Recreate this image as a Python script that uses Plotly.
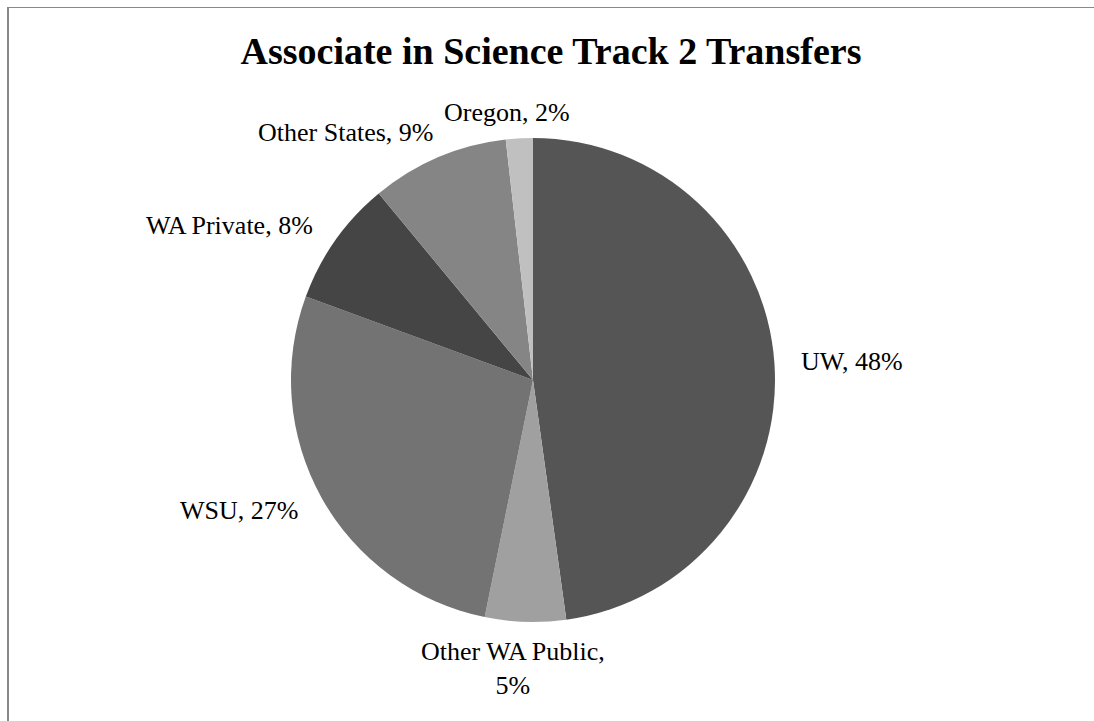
import math
import plotly.graph_objects as go

categories = ["UW", "Other WA Public", "WSU", "WA Private", "Other States", "Oregon"]
values = [47.8, 5.4, 27.4, 8.4, 9.2, 1.8]
shown_pct = [48, 5, 27, 8, 9, 2]
colors = ["#555555", "#a0a0a0", "#737373", "#454545", "#858585", "#c0c0c0"]

W, H = 1094, 721
labels_text = []
for c, p in zip(categories, shown_pct):
    if c == "Other WA Public":
        labels_text.append(f"{c},<br>{p}%")
    else:
        labels_text.append(f"{c}, {p}%")

FONT = "Liberation Serif, Times New Roman, serif"
cx, cy, R = 533, 380, 242
fig = go.Figure(go.Pie(
    labels=categories,
    values=values,
    textinfo="none",
    sort=False,
    direction="clockwise",
    rotation=0,
    marker=dict(colors=colors, line=dict(width=0)),
    showlegend=False,
    hoverinfo="label+percent",
    domain=dict(x=[(cx - R) / W, (cx + R) / W], y=[(H - cy - R) / H, (H - cy + R) / H]),
))

# label placement outside the slice ends (computed from the data angles)
annotations = []
total = sum(values)
cum = 0.0
for v, t in zip(values, labels_text):
    mid = (cum + v / 2) / total * 2 * math.pi
    cum += v
    s, c = math.sin(mid), math.cos(mid)
    xshift = 0
    if s > 0.2:
        xa = "left"
    elif s < -0.2:
        xa = "right"
    else:
        xa = "center"
        xshift = -12
    if c >= 0.85:
        ya, d = "bottom", 251
    elif c <= -0.85:
        ya, d = "top", 255
    else:
        ya, d = "middle", 267
    px = cx + d * s
    py = cy - d * c
    annotations.append(dict(
        text=t, x=px / W, y=1 - py / H, xref="paper", yref="paper",
        xanchor=xa, yanchor=ya, xshift=xshift, showarrow=False, align="center",
        font=dict(family=FONT, size=26, color="black"),
    ))

fig.update_layout(
    width=W, height=H,
    margin=dict(l=0, r=0, t=0, b=0),
    paper_bgcolor="white",
    title=dict(text="<b>Associate in Science Track 2 Transfers</b>",
               font=dict(family=FONT, size=38, color="black"),
               x=551 / W, xanchor="center", y=1 - 51 / H, yanchor="middle"),
    annotations=annotations,
    shapes=[
        dict(type="line", xref="paper", yref="paper", x0=7 / W, x1=1, y0=1 - 7.5 / H, y1=1 - 7.5 / H,
             line=dict(color="#888888", width=1)),
        dict(type="line", xref="paper", yref="paper", x0=8 / W, x1=8 / W, y0=0, y1=1 - 7 / H,
             line=dict(color="#888888", width=2)),
    ],
)

fig.write_html("out.html")
